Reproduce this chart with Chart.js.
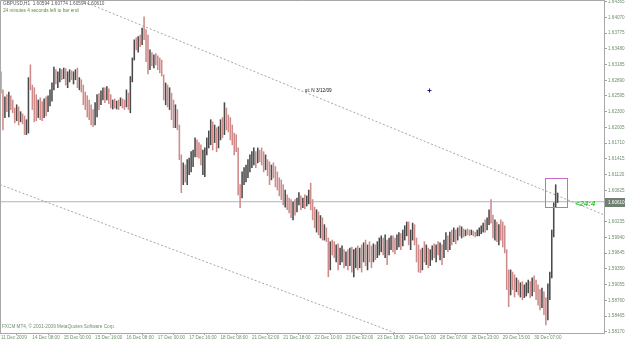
<!DOCTYPE html>
<html><head><meta charset="utf-8">
<script src="https://cdn.jsdelivr.net/npm/chart.js@4.4.0/dist/chart.umd.min.js"></script>
<style>html,body{margin:0;padding:0;background:#fff;overflow:hidden}</style>
</head><body>
<canvas id="c" width="625" height="342"></canvas>
<script>
const symbolInfo = "GBPUSD,H1  1.60594 1.60774 1.60594 1.60610";
const timerText = "24 minutes 4 seconds left to bar end";
const copyrightText = "FXCM MT4, \u00a9 2001-2009 MetaQuotes Software Corp.";
const noteText = "ut: N 3/12/09";
const countdownText = "<24:4";

const opens = [
1.6299,1.6267,1.6224,1.6252,1.6245,1.6258,1.6243,1.6237,1.6217,1.6234,
1.6215,1.6224,1.6213,1.6196,1.6203,1.6305,1.6279,1.6243,1.6230,1.6219,
1.6245,1.6224,1.6219,1.6249,1.6241,1.6256,1.6267,1.6280,1.6309,1.6294,
1.6299,1.6305,1.6297,1.6309,1.6290,1.6299,1.6303,1.6296,1.6301,1.6305,
1.6280,1.6286,1.6275,1.6249,1.6237,1.6226,1.6224,1.6211,1.6215,1.6237,
1.6252,1.6245,1.6262,1.6267,1.6256,1.6271,1.6252,1.6245,1.6249,1.6243,
1.6247,1.6241,1.6252,1.6245,1.6239,1.6262,1.6243,1.6290,1.6327,1.6359,
1.6356,1.6365,1.6361,1.6380,1.6374,1.6337,1.6309,1.6337,1.6327,1.6331,
1.6324,1.6316,1.6309,1.6299,1.6262,1.6271,1.6249,1.6262,1.6224,1.6211,
1.6219,1.6202,1.6149,1.6093,1.6121,1.6106,1.6130,1.6136,1.6140,1.6149,
1.6172,1.6158,1.6155,1.6140,1.6143,1.6158,1.6173,1.6187,1.6205,1.6177,
1.6196,1.6168,1.6192,1.6205,1.6200,1.6234,1.6224,1.6200,1.6187,1.6177,
1.6168,1.6162,1.6083,1.6074,1.6106,1.6112,1.6121,1.6130,1.6140,1.6145,
1.6153,1.6140,1.6155,1.6143,1.6136,1.6125,1.6140,1.6117,1.6102,1.6125,
1.6112,1.6096,1.6093,1.6078,1.6074,1.6061,1.6068,1.6051,1.6046,1.6036,
1.6055,1.6042,1.6061,1.6068,1.6055,1.6065,1.6059,1.6066,1.6074,1.6055,
1.6036,1.6023,1.6036,1.6012,1.6018,1.5999,1.6008,1.5989,1.5937,1.5974,
1.5971,1.5961,1.5974,1.5948,1.5961,1.5971,1.5948,1.5956,1.5943,1.5961,
1.5937,1.5952,1.5967,1.5943,1.5961,1.5948,1.5974,1.5956,1.5971,1.5961,
1.5952,1.5971,1.5961,1.5974,1.5980,1.5989,1.5971,1.5986,1.5961,1.5980,
1.5989,1.5982,1.5974,1.5989,1.5995,1.5980,1.6001,1.6008,1.6016,1.5989,
1.5999,1.6012,1.5989,1.5961,1.5943,1.5937,1.5961,1.5956,1.5971,1.5948,
1.5961,1.5971,1.5967,1.5974,1.5971,1.5976,1.5956,1.5980,1.5993,1.5978,
1.5997,1.5993,1.6004,1.5999,1.6008,1.6004,1.6008,1.6003,1.6004,1.6003,
1.6001,1.6004,1.6001,1.5999,1.6003,1.6008,1.6012,1.6018,1.6012,1.6023,
1.6036,1.6031,1.6004,1.6012,1.5993,1.6008,1.5999,1.5989,1.5971,1.5905,
1.5896,1.5918,1.5905,1.5896,1.5911,1.5896,1.5899,1.5886,1.5896,1.5899,
1.5905,1.5892,1.5911,1.5899,1.5886,1.5881,1.5867,1.5886,1.5858,1.5843,
1.5896,1.5918,1.5997,1.6053,1.60594];

const highs = [
1.6305,1.6271,1.6258,1.6262,1.6267,1.6260,1.6252,1.6237,1.6243,1.6239,
1.6230,1.6226,1.6222,1.6215,1.6294,1.6318,1.6280,1.6275,1.6262,1.6252,
1.6256,1.6249,1.6254,1.6258,1.6260,1.6271,1.6284,1.6314,1.6309,1.6305,
1.6311,1.6309,1.6312,1.6311,1.6305,1.6309,1.6307,1.6305,1.6309,1.6312,
1.6294,1.6290,1.6280,1.6267,1.6260,1.6252,1.6243,1.6234,1.6247,1.6262,
1.6264,1.6269,1.6275,1.6275,1.6277,1.6273,1.6262,1.6252,1.6254,1.6250,
1.6252,1.6256,1.6254,1.6252,1.6271,1.6265,1.6296,1.6331,1.6365,1.6369,
1.6371,1.6374,1.6387,1.6408,1.6384,1.6374,1.6346,1.6341,1.6337,1.6339,
1.6335,1.6331,1.6327,1.6299,1.6284,1.6280,1.6275,1.6265,1.6252,1.6243,
1.6234,1.6205,1.6149,1.6134,1.6130,1.6140,1.6143,1.6155,1.6158,1.6181,
1.6177,1.6172,1.6168,1.6158,1.6162,1.6181,1.6194,1.6215,1.6211,1.6205,
1.6200,1.6202,1.6215,1.6219,1.6247,1.6237,1.6224,1.6219,1.6205,1.6190,
1.6187,1.6162,1.6093,1.6117,1.6125,1.6130,1.6140,1.6149,1.6155,1.6162,
1.6155,1.6162,1.6158,1.6162,1.6155,1.6149,1.6140,1.6136,1.6130,1.6134,
1.6127,1.6117,1.6106,1.6102,1.6093,1.6083,1.6074,1.6068,1.6065,1.6061,
1.6065,1.6068,1.6078,1.6072,1.6068,1.6074,1.6072,1.6083,1.6096,1.6065,
1.6051,1.6046,1.6042,1.6035,1.6031,1.6018,1.6012,1.5993,1.5986,1.5989,
1.5986,1.5980,1.5982,1.5974,1.5978,1.5971,1.5967,1.5971,1.5974,1.5976,
1.5971,1.5974,1.5978,1.5974,1.5980,1.5984,1.5989,1.5980,1.5986,1.5978,
1.5982,1.5980,1.5986,1.5993,1.5997,1.5993,1.5999,1.5989,1.5993,1.5997,
1.5997,1.5993,1.5999,1.6003,1.6001,1.6008,1.6016,1.6023,1.6023,1.6008,
1.6021,1.6018,1.5993,1.5980,1.5971,1.5974,1.5986,1.5980,1.5974,1.5971,
1.5978,1.5982,1.5980,1.5986,1.5984,1.5980,1.5989,1.6003,1.5997,1.6004,
1.6008,1.6012,1.6008,1.6012,1.6016,1.6014,1.6010,1.6008,1.6010,1.6008,
1.6008,1.6006,1.6004,1.6008,1.6012,1.6016,1.6021,1.6027,1.6031,1.6046,
1.6065,1.6036,1.6027,1.6023,1.6018,1.6027,1.6023,1.6016,1.5971,1.5933,
1.5933,1.5929,1.5924,1.5918,1.5914,1.5909,1.5911,1.5905,1.5909,1.5914,
1.5911,1.5918,1.5922,1.5914,1.5905,1.5896,1.5899,1.5892,1.5881,1.5907,
1.5929,1.6008,1.6059,1.6093,1.60774];

const lows = [
1.6265,1.6196,1.6219,1.6230,1.6220,1.6234,1.6228,1.6209,1.6213,1.6205,
1.6211,1.6207,1.6187,1.6187,1.6190,1.6271,1.6234,1.6211,1.6213,1.6219,
1.6215,1.6213,1.6219,1.6222,1.6230,1.6241,1.6250,1.6271,1.6282,1.6275,
1.6286,1.6290,1.6292,1.6280,1.6275,1.6286,1.6290,1.6282,1.6290,1.6275,
1.6271,1.6267,1.6243,1.6234,1.6220,1.6215,1.6205,1.6202,1.6205,1.6220,
1.6234,1.6243,1.6252,1.6247,1.6252,1.6245,1.6237,1.6235,1.6237,1.6235,
1.6234,1.6241,1.6237,1.6234,1.6239,1.6234,1.6228,1.6286,1.6327,1.6346,
1.6342,1.6352,1.6356,1.6365,1.6324,1.6301,1.6309,1.6316,1.6312,1.6318,
1.6309,1.6303,1.6297,1.6252,1.6243,1.6239,1.6234,1.6215,1.6200,1.6200,
1.6196,1.6140,1.6078,1.6093,1.6098,1.6093,1.6112,1.6117,1.6127,1.6145,
1.6145,1.6143,1.6130,1.6112,1.6108,1.6149,1.6162,1.6168,1.6158,1.6172,
1.6155,1.6162,1.6177,1.6181,1.6187,1.6196,1.6192,1.6177,1.6168,1.6149,
1.6155,1.6074,1.6050,1.6068,1.6093,1.6098,1.6106,1.6117,1.6125,1.6130,
1.6125,1.6134,1.6136,1.6130,1.6117,1.6121,1.6110,1.6093,1.6102,1.6106,
1.6089,1.6083,1.6072,1.6065,1.6055,1.6051,1.6046,1.6040,1.6031,1.6027,
1.6036,1.6042,1.6055,1.6046,1.6050,1.6048,1.6053,1.6057,1.6046,1.6027,
1.6012,1.6004,1.5999,1.5993,1.5989,1.5989,1.5986,1.5920,1.5933,1.5961,
1.5956,1.5948,1.5933,1.5943,1.5948,1.5937,1.5941,1.5933,1.5941,1.5929,
1.5920,1.5937,1.5933,1.5937,1.5929,1.5948,1.5941,1.5933,1.5948,1.5937,
1.5948,1.5952,1.5956,1.5961,1.5967,1.5961,1.5956,1.5943,1.5961,1.5971,
1.5967,1.5963,1.5971,1.5976,1.5971,1.5978,1.5989,1.5997,1.5980,1.5971,
1.5989,1.5980,1.5948,1.5929,1.5928,1.5933,1.5948,1.5943,1.5937,1.5941,
1.5952,1.5956,1.5948,1.5961,1.5952,1.5943,1.5956,1.5971,1.5967,1.5971,
1.5980,1.5986,1.5982,1.5989,1.5997,1.5993,1.5995,1.5997,1.5999,1.5997,
1.5999,1.5997,1.5995,1.5997,1.5997,1.6001,1.6004,1.6004,1.6008,1.6018,
1.6021,1.5993,1.5989,1.5986,1.5980,1.5989,1.5976,1.5965,1.5896,1.5864,
1.5886,1.5896,1.5882,1.5892,1.5886,1.5882,1.5877,1.5881,1.5884,1.5890,
1.5881,1.5884,1.5892,1.5877,1.5867,1.5858,1.5862,1.5849,1.5830,1.5839,
1.5877,1.5918,1.5995,1.6051,1.60594];

const closes = [
1.6271,1.6219,1.6252,1.6243,1.6260,1.6243,1.6237,1.6215,1.6234,1.6211,
1.6224,1.6213,1.6196,1.6203,1.6286,1.6279,1.6243,1.6230,1.6219,1.6245,
1.6224,1.6217,1.6249,1.6241,1.6256,1.6267,1.6280,1.6309,1.6294,1.6299,
1.6305,1.6297,1.6309,1.6290,1.6299,1.6303,1.6296,1.6301,1.6305,1.6280,
1.6286,1.6275,1.6249,1.6237,1.6226,1.6224,1.6211,1.6205,1.6237,1.6252,
1.6241,1.6262,1.6267,1.6256,1.6271,1.6252,1.6245,1.6249,1.6243,1.6247,
1.6241,1.6252,1.6245,1.6239,1.6262,1.6243,1.6290,1.6327,1.6359,1.6356,
1.6365,1.6361,1.6380,1.6374,1.6337,1.6309,1.6337,1.6327,1.6331,1.6324,
1.6316,1.6309,1.6301,1.6262,1.6271,1.6249,1.6262,1.6224,1.6211,1.6219,
1.6202,1.6149,1.6093,1.6121,1.6106,1.6130,1.6136,1.6140,1.6149,1.6172,
1.6158,1.6155,1.6140,1.6143,1.6158,1.6173,1.6187,1.6205,1.6177,1.6196,
1.6168,1.6192,1.6205,1.6200,1.6234,1.6224,1.6200,1.6187,1.6177,1.6168,
1.6162,1.6083,1.6074,1.6106,1.6112,1.6121,1.6130,1.6140,1.6145,1.6153,
1.6140,1.6155,1.6143,1.6136,1.6125,1.6140,1.6117,1.6102,1.6125,1.6112,
1.6096,1.6093,1.6078,1.6074,1.6061,1.6068,1.6051,1.6046,1.6036,1.6055,
1.6042,1.6061,1.6068,1.6055,1.6065,1.6059,1.6066,1.6074,1.6055,1.6036,
1.6023,1.6036,1.6012,1.6018,1.5999,1.6008,1.5989,1.5937,1.5974,1.5971,
1.5961,1.5974,1.5948,1.5961,1.5971,1.5948,1.5956,1.5943,1.5961,1.5937,
1.5952,1.5967,1.5943,1.5961,1.5948,1.5974,1.5956,1.5971,1.5961,1.5952,
1.5971,1.5961,1.5974,1.5980,1.5989,1.5971,1.5986,1.5961,1.5980,1.5989,
1.5982,1.5974,1.5989,1.5995,1.5980,1.6001,1.6008,1.6016,1.5989,1.5999,
1.6012,1.5989,1.5961,1.5943,1.5937,1.5961,1.5956,1.5971,1.5948,1.5961,
1.5971,1.5967,1.5974,1.5971,1.5976,1.5956,1.5980,1.5993,1.5978,1.5997,
1.5993,1.6004,1.5999,1.6008,1.6004,1.6008,1.6003,1.6004,1.6003,1.6001,
1.6004,1.6001,1.5999,1.6003,1.6008,1.6012,1.6018,1.6012,1.6023,1.6036,
1.6031,1.6004,1.6012,1.5993,1.6008,1.5999,1.5989,1.5971,1.5905,1.5896,
1.5918,1.5905,1.5896,1.5911,1.5896,1.5899,1.5886,1.5896,1.5899,1.5905,
1.5892,1.5911,1.5899,1.5886,1.5881,1.5867,1.5886,1.5858,1.5843,1.5896,
1.5918,1.5997,1.6053,1.6059,1.60610];

const timeLabels = ["11 Dec 2009","14 Dec 08:00","15 Dec 00:00","15 Dec 16:00","16 Dec 08:00","17 Dec 00:00",
  "17 Dec 16:00","18 Dec 08:00","21 Dec 02:00","21 Dec 18:00","22 Dec 10:00","23 Dec 02:00",
  "23 Dec 18:00","24 Dec 10:00","28 Dec 07:00","28 Dec 23:00","29 Dec 15:00","30 Dec 07:00"];
const timeLabelBars = [0,16,32,48,64,80,96,112,128,144,160,176,192,208,224,240,256,272];
const priceTicks = [1.58170,1.58465,1.58760,1.59055,1.59350,1.59645,1.59940,1.60235,1.60530,1.60825,1.61120,
  1.61415,1.61710,1.62005,1.62300,1.62595,1.62890,1.63185,1.63480,1.63775,1.64070,1.64365];
const bidPrice = 1.60610;
const upperTrend = [{x:40, y:1.6440}, {x:308, y:1.6036}];
const lowerTrend = [{x:-0.5, y:1.6093}, {x:201, y:1.5815}];
const markBox = {bar0:277.6, bar1:288.8, priceTop:1.6105, priceBottom:1.6050};
const noteAnchor = {bar:155, price:1.6269};
const crossAnchor = {bar:218.4, price:1.6271};
const countdownAnchor = {bar:293, price:1.6057};

const FONT = '"Liberation Sans", Arial, sans-serif';
const upColor = '#4a4a4a', downColor = '#cf8a8a';
const idx = opens.map((_, i) => i);

const overlay = {
  id: 'overlay',
  afterDatasetsDraw(chart) {
    const {ctx, chartArea: a, scales: {x, y}} = chart;
    ctx.save();
    ctx.strokeStyle = '#a8a8a8'; ctx.lineWidth = 1;
    ctx.beginPath(); ctx.moveTo(0.5, a.bottom); ctx.lineTo(0.5, 0.5); ctx.lineTo(a.right, 0.5); ctx.stroke();
    ctx.strokeStyle = '#c46ccc';
    const bx0 = x.getPixelForValue(markBox.bar0), bx1 = x.getPixelForValue(markBox.bar1);
    const by0 = y.getPixelForValue(markBox.priceTop), by1 = y.getPixelForValue(markBox.priceBottom);
    ctx.strokeRect(Math.round(bx0) + 0.5, Math.round(by0) + 0.5, Math.round(bx1 - bx0), Math.round(by1 - by0));
    ctx.textBaseline = 'middle'; ctx.textAlign = 'left';
    ctx.font = '4.7px ' + FONT;
    ctx.fillStyle = '#555';
    ctx.fillText(symbolInfo, 3, 4);
    ctx.fillStyle = '#5e8a46';
    ctx.fillText(timerText, 3, 10.5);
    ctx.fillStyle = '#6f8f6f';
    ctx.fillText(copyrightText, 2, 327);
    ctx.fillStyle = '#111';
    ctx.fillText(noteText, x.getPixelForValue(noteAnchor.bar), y.getPixelForValue(noteAnchor.price));
    const cx = Math.round(x.getPixelForValue(crossAnchor.bar)) + 0.5, cy = Math.round(y.getPixelForValue(crossAnchor.price)) + 0.5;
    ctx.strokeStyle = '#1c1c7a';
    ctx.beginPath(); ctx.moveTo(cx - 2, cy); ctx.lineTo(cx + 2, cy); ctx.moveTo(cx, cy - 2); ctx.lineTo(cx, cy + 2); ctx.stroke();
    ctx.font = 'italic bold 7.7px ' + FONT;
    ctx.fillStyle = '#2ecc2e';
    ctx.fillText(countdownText, x.getPixelForValue(countdownAnchor.bar), y.getPixelForValue(countdownAnchor.price));
    ctx.restore();
  },
  afterDraw(chart) {
    const {ctx, chartArea: a, scales: {y}} = chart;
    ctx.save();
    const py = y.getPixelForValue(bidPrice);
    ctx.fillStyle = '#6f7f70';
    ctx.fillRect(a.right + 1, Math.round(py) - 4, 625 - a.right - 1, 9);
    ctx.fillStyle = '#ffffff';
    ctx.font = '4.6px ' + FONT;
    ctx.textBaseline = 'middle'; ctx.textAlign = 'left';
    ctx.fillText(bidPrice.toFixed(5), a.right + 4, Math.round(py) + 0.5);
    ctx.restore();
  }
};

new Chart(document.getElementById('c'), {
  type: 'bar',
  data: {
    datasets: [
      {
        type: 'bar', label: 'GBPUSD',
        data: idx.map(i => ({x: i, y: [lows[i], highs[i]]})),
        backgroundColor: idx.map(i => closes[i] >= opens[i] ? upColor : downColor),
        barThickness: 0.9, borderWidth: 0, grouped: false, order: 1
      },
      { type: 'line', data: upperTrend, borderColor: '#a6a6a6', borderWidth: 1, borderDash: [2, 2], pointRadius: 0, order: 2 },
      { type: 'line', data: lowerTrend, borderColor: '#a6a6a6', borderWidth: 1, borderDash: [2, 2], pointRadius: 0, order: 2 },
      { type: 'line', data: [{x: -1, y: bidPrice}, {x: 310, y: bidPrice}], borderColor: '#a9b6bd', borderWidth: 1, pointRadius: 0, order: 3 }
    ]
  },
  options: {
    responsive: false, animation: false, devicePixelRatio: 1,
    layout: {padding: 0},
    plugins: {legend: {display: false}, tooltip: {enabled: false}, title: {display: false}},
    scales: {
      x: {
        type: 'linear', min: -0.51, max: 307.65, offset: false,
        afterBuildTicks: s => { s.ticks = timeLabelBars.map(v => ({value: v})); },
        ticks: {autoSkip: false, maxRotation: 0, minRotation: 0, align: 'start', padding: 0,
          font: {size: 4.6, family: FONT}, color: '#6f8f6f',
          callback: (v, i) => timeLabels[i]},
        grid: {display: true, drawOnChartArea: false, drawTicks: true, tickLength: 2, color: '#a0a0a0'},
        border: {display: true, color: '#a8a8a8'},
        afterFit: s => { s.height = 9; s.paddingLeft = 0; s.paddingRight = 0; }
      },
      y: {
        position: 'right', min: 1.58146, max: 1.64397,
        afterBuildTicks: s => { s.ticks = priceTicks.map(v => ({value: v})); },
        ticks: {autoSkip: false, padding: 1, font: {size: 4.6, family: FONT}, color: '#6f8f6f',
          callback: v => v.toFixed(5)},
        grid: {display: true, drawOnChartArea: false, drawTicks: true, tickLength: 3, color: '#a0a0a0'},
        border: {display: true, color: '#a8a8a8'},
        afterFit: s => { s.width = 21; s.paddingTop = 0; s.paddingBottom = 0; }
      }
    }
  },
  plugins: [overlay]
});
</script>
</body></html>
